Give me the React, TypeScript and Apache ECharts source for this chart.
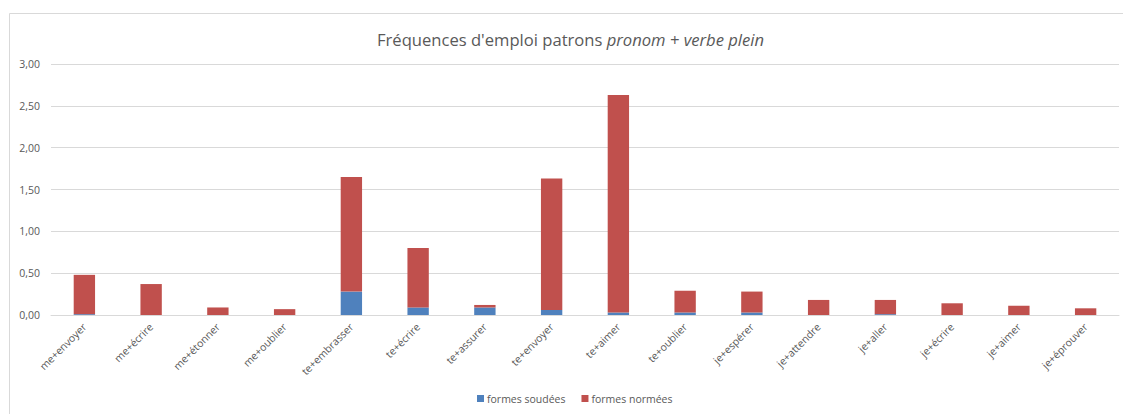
import React, { useEffect, useRef } from "react";
import * as echarts from "echarts";

const categories = [
  "me+envoyer", "me+écrire", "me+étonner", "me+oublier", "te+embrasser", "te+écrire",
  "te+assurer", "te+envoyer", "te+aimer", "te+oublier", "je+espérer", "je+attendre",
  "je+aller", "je+écrire", "je+aimer", "je+éprouver",
];
const formesSoudees = [0.01, 0, 0, 0, 0.28, 0.09, 0.09, 0.06, 0.03, 0.03, 0.03, 0, 0.01, 0, 0, 0];
const formesNormees = [0.47, 0.37, 0.09, 0.07, 1.37, 0.71, 0.03, 1.57, 2.6, 0.26, 0.25, 0.18, 0.17, 0.14, 0.11, 0.08];
const yTicks = [0, 0.5, 1, 1.5, 2, 2.5, 3];

const FONT = "'Open Sans', 'Noto Sans', sans-serif";
const GREY = "#595959";

export default function App() {
  const ref = useRef<HTMLDivElement>(null);
  useEffect(() => {
    if (!ref.current) return;
    const chart = echarts.init(ref.current, null, { renderer: "svg" });
    chart.setOption({
      animation: false,
      backgroundColor: "#ffffff",
      textStyle: { fontFamily: FONT },
      title: {
        text: "{n|Fréquences d'emploi patrons }{i|pronom + verbe plein}",
        left: 372,
        top: 26,
        textStyle: {
          fontWeight: "normal",
          rich: {
            n: { fontSize: 16.6, color: GREY, fontFamily: FONT, fontWeight: "normal" },
            i: { fontSize: 16.6, color: GREY, fontFamily: FONT, fontStyle: "italic", fontWeight: "normal" },
          },
        },
      },
      legend: {
        bottom: 5,
        left: 472,
        itemWidth: 7,
        itemHeight: 7,
        itemGap: 16,
        icon: "rect",
        textStyle: { color: GREY, fontSize: 10.5, fontFamily: FONT, padding: [0, 0, 0, -2] },
        data: ["formes soudées", "formes normées"],
      },
      grid: { left: 51, right: 4, top: 64, bottom: 99 },
      xAxis: {
        type: "category",
        data: categories,
        axisTick: { show: false },
        axisLine: { lineStyle: { color: "#d9d9d9" } },
        axisLabel: { rotate: 45, color: GREY, fontSize: 10.5, fontFamily: FONT, margin: 10, interval: 0 },
      },
      yAxis: {
        type: "value",
        min: yTicks[0],
        max: yTicks[yTicks.length - 1],
        interval: 0.5,
        axisLine: { show: false },
        axisTick: { show: false },
        splitLine: { lineStyle: { color: "#d9d9d9" } },
        axisLabel: {
          color: GREY,
          fontSize: 10.5,
          fontFamily: FONT,
          margin: 11,
          formatter: (v: number) => v.toFixed(2).replace(".", ","),
        },
      },
      series: [
        {
          name: "formes soudées",
          type: "bar",
          stack: "total",
          data: formesSoudees,
          barCategoryGap: "68%",
          itemStyle: { color: "#4F81BD" },
        },
        {
          name: "formes normées",
          type: "bar",
          stack: "total",
          data: formesNormees,
          barCategoryGap: "68%",
          itemStyle: { color: "#C0504D" },
        },
      ],
      graphic: [
        { type: "line", shape: { x1: 9.5, y1: 13.5, x2: 1123, y2: 13.5 }, style: { stroke: "#d9d9d9", lineWidth: 1 } },
        { type: "line", shape: { x1: 9.5, y1: 13.5, x2: 9.5, y2: 414 }, style: { stroke: "#d9d9d9", lineWidth: 1 } },
      ],
    });
    return () => chart.dispose();
  }, []);
  return (
    <div
      ref={ref}
      style={{ position: "absolute", left: 0, top: 0, width: 1123, height: 414 }}
    />
  );
}
